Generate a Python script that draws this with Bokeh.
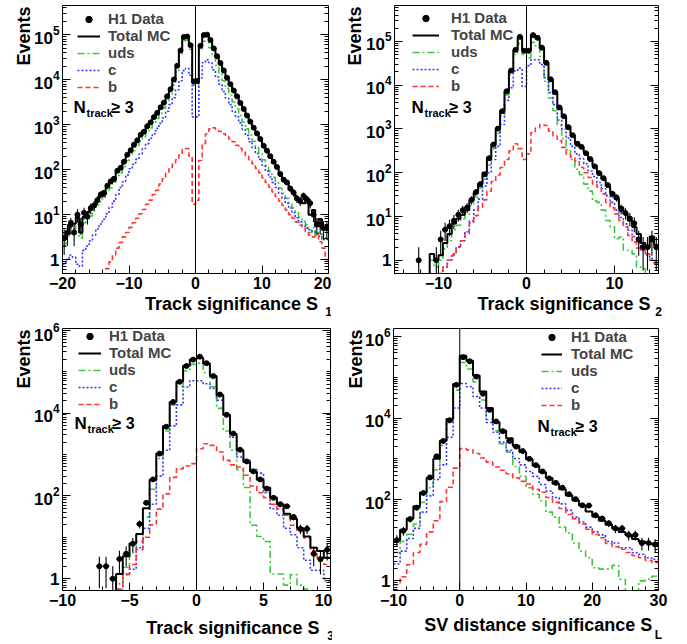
import math
import numpy as np
from bokeh.plotting import figure
from bokeh.layouts import column, row
from bokeh.models import (Range1d, FixedTicker, LogTickFormatter, LogAxis, LinearAxis,
                          CustomJSTickFormatter, Span, Label, Legend, LegendItem)
from bokeh.embed import file_html
from bokeh.resources import INLINE

FONT = "Liberation Sans"
GREEN = "#3ec63e"
BLUE = "#3434ff"
RED = "#ff3434"
FLOOR = 1e-3

# ---------------- Track significance S1 : 80 bins of 0.5 in [-20, 20] ----------------
s1_lo, s1_bw = -20.0, 0.5
s1_data = [3, 4, 6, 4, 10, 6, 11, 9, 14, 16,
           21, 28, 30, 44, 55, 62, 95, 110, 150, 215,
           270, 360, 450, 600, 700, 930, 1130, 1480, 1840, 2450,
           3100, 4300, 6200, 10200, 20500, 45000, 90000, 92000, 59000, 9200,
           9400, 57000, 99000, 101000, 77000, 50000, 33500, 23500, 16200, 11100,
           8000, 5800, 4300, 3050, 2250, 1600, 1170, 860, 640, 480,
           340, 265, 200, 150, 115, 80, 60, 52, 38, 31,
           23, 20, 26, 22, 18, 10, 6, 6, 5, 5]
s1_total = [2.8, 4.2, 7.1, 6.3, 8.9, 4.0, 8.9, 11, 13, 17,
            22, 26, 33, 42, 52, 68, 89, 115, 160, 210,
            280, 350, 460, 580, 720, 910, 1150, 1450, 1860, 2400,
            3160, 4400, 6300, 10000, 20000, 45000, 89000, 93000, 60000, 9100,
            9300, 56000, 100000, 100000, 76000, 50000, 33000, 23000, 16000, 11000,
            7900, 5750, 4200, 3000, 2200, 1580, 1150, 850, 630, 470,
            350, 260, 190, 145, 110, 83, 63, 50, 40, 30,
            24, 19, 18, 22, 10, 12.6, 5.6, 8, 5, 5.6]
s1_uds = [2.1, 3.1, 5.2, 4.7, 6.6, 3.0, 6.6, 8.3, 9.3, 12.3,
          16.6, 19.5, 24.5, 31, 39, 50, 66, 85, 117, 158,
          209, 263, 339, 427, 537, 676, 851, 1070, 1380, 1780,
          2340, 3240, 4680, 7600, 15000, 35000, 74000, 76000, 48000, 7600,
          7600, 48000, 72000, 71000, 52000, 33000, 21000, 14000, 9500, 6500,
          4600, 3200, 2300, 1600, 1150, 810, 590, 430, 310, 230,
          166, 123, 91, 68, 51, 39, 30, 23, 18, 14,
          11, 8.7, 7.2, 6.0, 4.0, 5.2, 3.5, 4.0, 2.8, 3.2]
s1_c = [0.79, 1.0, 1.26, 1.12, 0.79, 0.71, 1.6, 2.0, 2.6, 3.5,
        4.8, 6.2, 7.9, 10.5, 14.5, 20, 28, 40, 54, 76,
        105, 132, 170, 224, 295, 380, 500, 630, 830, 1070,
        1410, 2000, 2800, 4000, 6000, 9500, 16000, 18000, 12600, 1500,
        1500, 11000, 24000, 28000, 24000, 16600, 11500, 8000, 5500, 3900,
        2800, 2000, 1500, 1100, 790, 580, 420, 310, 230, 170,
        126, 93, 69, 52, 40, 30, 23, 18, 14, 11,
        8.5, 6.9, 5.8, 5.0, 4.6, 4.2, 3.8, 3.3, 2.8, 2.8]
s1_b = [0, 0, 0, 0, 0, 0, 0, 0, 0, 0,
        0, 0, 0.45, 0.63, 0.89, 1.26, 1.8, 2.4, 3.2, 4.0,
        5.2, 6.6, 8.3, 10.5, 13, 17, 21, 28, 35, 48,
        63, 83, 105, 132, 166, 214, 280, 295, 200, 17,
        21, 160, 380, 630, 810, 850, 790, 710, 630, 550,
        480, 420, 350, 300, 245, 200, 166, 135, 107, 85,
        66, 52, 41, 32, 25, 20, 16, 12.6, 10, 8.3,
        6.9, 5.8, 5.0, 4.2, 3.5, 3.2, 3.5, 2.5, 1.8, 1.0]

# ---------------- Track significance S2 : 60 bins of 0.5 in [-15, 15] ----------------
s2_lo, s2_bw = -15.0, 0.5
s2_data = [0, 0, 0, 0, 0, 1, 0, 0, 0, 1,
           3, 5, 6, 8, 11, 14, 16, 24, 36, 55,
           92, 215, 440, 1020, 2550, 7300, 21500, 64000, 127000, 61000,
           61000, 139000, 121000, 72000, 32500, 13600, 6900, 3100, 1950, 1100,
           720, 460, 390, 280, 205, 140, 98, 75, 52, 33,
           27, 15, 12, 9, 7, 3, 2, 2, 3, 2]
s2_total = [0, 0, 0, 0, 0, 0, 0, 0, 1.4, 1.0,
            1.3, 2.5, 4.0, 6.9, 8.9, 11, 14, 23, 35, 56,
            100, 220, 450, 1000, 2600, 7400, 21000, 63000, 126000, 62000,
            60000, 138000, 120000, 71000, 32000, 13500, 6800, 3000, 1900, 1120,
            710, 490, 380, 290, 200, 145, 100, 72, 50, 35,
            25, 16, 11.5, 8.1, 5.8, 4.0, 2.5, 2.0, 3.5, 2.2]
s2_uds = [0, 0, 0, 0, 0, 0, 0, 0, 1.0, 0.7,
          1.0, 1.8, 2.8, 5.0, 6.3, 8.9, 11, 18, 28, 45,
          71, 150, 355, 800, 2000, 6000, 17400, 50000, 89000, 50000,
          42000, 95000, 79000, 45000, 12300, 5100, 2600, 1200, 600, 340,
          200, 120, 90, 55, 38, 23, 21, 14, 8.1, 5.8,
          3.1, 3.4, 1.7, 1.7, 1.4, 0.7, 0.65, 0.42, 0.4, 0.4]
s2_c = [0, 0, 0, 0, 0, 0, 0, 0, 0, 0,
        0.5, 0.7, 1.0, 1.4, 2.0, 2.8, 4.5, 7.9, 14, 25,
        50, 100, 200, 400, 1260, 4500, 8700, 21000, 24500, 9300,
        28000, 38000, 38000, 29500, 14800, 6800, 3600, 1600, 1000, 620,
        400, 270, 210, 160, 110, 82, 60, 43, 30, 21,
        14, 9.5, 6.8, 4.9, 3.5, 2.5, 1.7, 1.3, 1.1, 0.9]
s2_b = [0, 0, 0, 0, 0, 0, 0, 0, 0, 0,
        0.5, 0.7, 1.0, 1.3, 2.0, 2.8, 4.0, 7.1, 10.5, 16,
        24, 38, 63, 89, 132, 200, 316, 460, 355, 200,
        270, 830, 1050, 1260, 1200, 890, 690, 540, 380, 263,
        224, 186, 132, 100, 78, 55, 47, 33, 21, 16,
        11.5, 8.1, 5.8, 3.7, 2.6, 1.9, 1.7, 1.4, 1.0, 0.83]

# ---------------- Track significance S3 : 40 bins of 0.5 in [-10, 10] ----------------
s3_lo, s3_bw = -10.0, 0.5
s3_data = [0, 0, 0, 0, 0, 2, 2, 1, 3, 4,
           7, 21, 68, 250, 1050, 4700, 18500, 57000, 137000, 195000,
           230000, 160000, 78000, 28000, 9100, 3200, 1300, 680, 390, 250,
           150, 90, 63, 56, 31, 16, 16, 4, 3, 5]
s3_total = [0, 0, 0, 0, 0, 0, 0, 0, 1.3, 3.5,
            7.2, 12, 50, 245, 1050, 4900, 18600, 57500, 138000, 195000,
            214000, 158000, 79000, 27000, 9100, 3100, 1260, 660, 390, 245,
            158, 91, 63, 37, 28, 16.6, 10.5, 5.6, 4.7, 3.2]
s3_uds = [0, 0, 0, 0, 0, 0, 0, 0, 0.75, 1.9,
          4.3, 7.9, 31, 145, 800, 3700, 15800, 43600, 105000, 150000,
          158000, 95000, 43000, 13000, 3700, 1260, 430, 160, 19.5, 10.5,
          7.9, 1.3, 1.3, 0.7, 1.26, 0.7, 0.56, 0, 0, 0]
s3_c = [0, 0, 0, 0, 0, 0, 0, 0, 0.4, 1.3,
        1.7, 5.6, 16.6, 63, 300, 1260, 4900, 15800, 42700, 60000,
        60000, 51000, 39000, 20400, 8300, 2600, 870, 720, 430, 355,
        120, 49, 34, 16.6, 11.5, 5.6, 2.8, 1.6, 1.6, 0.9]
s3_b = [0, 0, 0, 0, 0, 0, 0, 0, 0.56, 1.26,
        2.2, 5.0, 10, 20, 48, 112, 280, 450, 525, 600,
        1380, 1820, 1660, 1150, 720, 560, 500, 316, 174, 120,
        91, 63, 49, 34, 19.5, 13.8, 9.5, 4.7, 2.7, 2.2]

# ---------------- SV distance significance SL : 40 bins of 1 in [-10, 30] ----------------
sl_lo, sl_bw = -10.0, 1.0
sl_data = [10, 17, 33, 63, 145, 350, 1150, 2750, 8900, 66000,
           316000, 250000, 105000, 40000, 16000, 8300, 4800, 2750, 2000, 1550,
           1000, 700, 490, 330, 257, 195, 135, 102, 72, 71,
           41, 34, 26, 19.5, 19.5, 13.5, 13.5, 8.5, 8.5, 7.8]
sl_total = [10, 18, 34, 68, 148, 340, 1000, 2800, 9500, 69000,
            340000, 257000, 112000, 45000, 17800, 7900, 5000, 3200, 2100, 1480,
            980, 680, 470, 340, 245, 178, 126, 95, 71, 51,
            38, 30, 24, 19.5, 16, 13.5, 10.7, 9.3, 8.5, 7.8]
sl_uds = [5.0, 9.3, 14, 25, 85, 195, 540, 2140, 7800, 49000,
          234000, 162000, 78000, 28000, 9300, 4900, 2340, 1480, 650, 370,
          195, 135, 93, 49, 37, 21, 15, 8.5, 5.4, 3.7,
          2.1, 1.95, 1.95, 2.4, 1.1, 0.56, 0.45, 1.0, 1.1, 1.3]
sl_c = [2.6, 5.4, 11, 19.5, 49, 123, 310, 710, 3400, 17800,
        71000, 59000, 34000, 17800, 7800, 4500, 2600, 1620, 1020, 710,
        490, 370, 234, 162, 112, 78, 54, 37, 28, 21,
        16, 13.5, 9.3, 8.5, 6.5, 6.5, 4.9, 4.5, 3.7, 3.4]
sl_b = [0.8, 1.26, 2.5, 5.0, 7.9, 16, 30, 89, 200, 590,
        1780, 1660, 1350, 1050, 830, 630, 525, 430, 340, 280,
        240, 178, 151, 112, 85, 60, 43, 34, 25, 18.6,
        13.8, 11.5, 8.3, 6.9, 6.0, 5.0, 4.2, 3.7, 3.2, 2.8]


def log_minor(lo_exp, hi_exp, extra=()):
    ticks = [k * 10.0 ** e for e in range(lo_exp, hi_exp + 1) for k in range(2, 10)]
    return sorted(ticks + list(extra))


def style_axis(ax, size="16px"):
    ax.axis_line_color = None
    ax.major_tick_in = 8
    ax.major_tick_out = 0
    ax.minor_tick_in = 4
    ax.minor_tick_out = 0
    ax.major_tick_line_color = "black"
    ax.minor_tick_line_color = "black"
    ax.major_label_text_font = FONT
    ax.major_label_text_font_style = "bold"
    ax.major_label_text_font_size = size
    ax.major_label_text_color = "black"
    ax.major_label_standoff = 3


def bare_axis(ax):
    ax.axis_line_color = None
    ax.major_tick_line_color = None
    ax.minor_tick_line_color = None
    ax.major_tick_in = 0
    ax.major_tick_out = 0
    ax.minor_tick_in = 0
    ax.minor_tick_out = 0
    ax.major_label_text_font = FONT
    ax.major_label_text_font_style = "bold"
    ax.major_label_text_color = "black"
    ax.axis_label_text_font = FONT
    ax.axis_label_text_font_style = "bold"
    ax.axis_label_text_color = "black"


def text(p, x, y, s, size):
    p.add_layout(Label(x=x, y=y, x_units="screen", y_units="screen", text=s,
                       text_font=FONT, text_font_style="bold", text_font_size=size,
                       text_baseline="alphabetic", text_color="black"))


def step_line(p, edges, vals, **kw):
    y = [v if v > 0 else FLOOR for v in vals]
    return p.step(x=list(edges), y=y + [y[-1]], mode="after", **kw)


def panel(cfg):
    w, h = cfg["size"]
    bl, br, bt, bb = cfg["borders"]
    fw, fh = w - bl - br, h - bt - bb
    xr0, xr1 = cfg["xr"]
    yr0, yr1 = cfg["yr"]
    p = figure(width=w, height=h, output_backend="svg", toolbar_location=None,
               x_range=Range1d(xr0, xr1), y_range=Range1d(yr0, yr1),
               y_axis_type="log", min_border_left=bl, min_border_right=br,
               min_border_top=bt, min_border_bottom=bb)
    p.grid.visible = False
    p.outline_line_color = "black"
    p.outline_line_width = 1
    p.background_fill_color = "white"
    p.border_fill_color = "white"

    # numeric axes, ticks pointing into the frame
    p.xaxis.ticker = FixedTicker(ticks=cfg["xmajor"], minor_ticks=cfg["xminor"])
    style_axis(p.xaxis[0])
    yt = FixedTicker(ticks=cfg["ymajor"], minor_ticks=cfg["yminor"])
    p.yaxis.ticker = yt
    p.yaxis.formatter = LogTickFormatter(min_exponent=1)
    style_axis(p.yaxis[0], "17px")
    ra = LogAxis(ticker=yt, formatter=CustomJSTickFormatter(code="return ''"))
    style_axis(ra)
    ra.major_label_standoff = 0
    p.add_layout(ra, "right")

    # x title, right aligned under the axis, with its subscript
    span = xr1 - xr0
    gap, sub_off = cfg["title_gap"]
    xc = xr0 + (fw - gap - cfg["title_w"] / 2) / fw * span
    xs = xr0 + (fw - sub_off) / fw * span
    tx = LinearAxis(ticker=FixedTicker(ticks=[xc], minor_ticks=[]),
                    formatter=CustomJSTickFormatter(args=dict(t=cfg["title"]), code="return t;"),
                    bounds=(xr0, xs))
    bare_axis(tx)
    tx.major_label_text_font_size = "18px"
    tx.major_label_standoff = cfg["title_standoff"]
    tx.axis_label = cfg["sub"]
    tx.axis_label_align = "end"
    tx.axis_label_standoff = -10
    tx.axis_label_text_font_size = "12px"
    p.add_layout(tx, "below")

    # y title, its top end level with the top of the frame
    ppd = fh / math.log10(yr1 / yr0)
    yc = yr1 / 10 ** (1.0 / ppd)
    ty = LogAxis(ticker=FixedTicker(ticks=[yc], minor_ticks=[]),
                 formatter=CustomJSTickFormatter(code="return 'Events';"))
    bare_axis(ty)
    ty.major_label_text_font_size = "18px"
    ty.major_label_orientation = math.pi / 2
    ty.major_label_standoff = cfg["events_standoff"]
    p.add_layout(ty, "left")

    lo, bw, n = cfg["lo"], cfg["bw"], len(cfg["total"])
    edges = lo + bw * np.arange(n + 1)
    centers = edges[:-1] + bw / 2

    r_uds = step_line(p, edges, cfg["uds"], line_color=GREEN, line_width=1.6, line_dash="7 3 2 3")
    r_c = step_line(p, edges, cfg["c"], line_color=BLUE, line_width=1.6, line_dash="2 2")
    r_b = step_line(p, edges, cfg["b"], line_color=RED, line_width=1.6, line_dash="5 3")
    r_tot = step_line(p, edges, cfg["total"], line_color="black", line_width=2)

    cnt = np.array(cfg["data"], dtype=float)
    m = cnt > 0
    xc_, yc_ = centers[m], cnt[m]
    err = np.sqrt(yc_)
    p.segment(x0=xc_, y0=np.maximum(yc_ - err, FLOOR), x1=xc_, y1=yc_ + err,
              line_color="black", line_width=1.1)
    p.segment(x0=xc_ - bw / 2, y0=yc_, x1=xc_ + bw / 2, y1=yc_,
              line_color="black", line_width=1.1)
    r_dat = p.scatter(x=xc_, y=yc_, marker="circle", size=5,
                      fill_color="black", line_color="black")

    p.add_layout(Span(location=0, dimension="height", line_color="black", line_width=1))

    lx, ly, gw, st = cfg["legend"]
    leg = Legend(items=[LegendItem(label="H1 Data", renderers=[r_dat]),
                        LegendItem(label="Total MC", renderers=[r_tot]),
                        LegendItem(label="uds", renderers=[r_uds]),
                        LegendItem(label="c", renderers=[r_c]),
                        LegendItem(label="b", renderers=[r_b])],
                 location=(lx, ly), glyph_width=gw, glyph_height=16, label_standoff=st,
                 spacing=0, padding=0, margin=0, label_height=16,
                 label_text_font=FONT, label_text_font_style="bold",
                 label_text_font_size="15px", border_line_color=None,
                 background_fill_alpha=0)
    p.add_layout(leg, "center")

    nx, ny = cfg["ntrack"]
    text(p, nx, ny, "N", "17px")
    text(p, nx + 13, ny - 5, "track", "11px")
    text(p, nx + 38, ny, "\u2265 3", "16px")
    return p


y6 = [1, 10, 100, 1e3, 1e4, 1e5]
cfgs = [
    dict(size=(331, 322), borders=(62, 3, 5, 49), xr=(-20, 20), yr=(0.49, 4.5e5),
         xmajor=[-20, -10, 0, 10, 20], xminor=list(range(-18, 20, 2)),
         ymajor=y6, yminor=log_minor(-1, 5),
         lo=s1_lo, bw=s1_bw, data=s1_data, total=s1_total, uds=s1_uds, c=s1_c, b=s1_b,
         legend=(15, 178, 23, 8), ntrack=(11, 166),
         title="Track significance S", sub="1", title_w=174, title_gap=(10, 6),
         title_standoff=2, events_standoff=7),
    dict(size=(356, 322), borders=(59, 29, 4, 49), xr=(-15, 15), yr=(0.5, 6.6e5),
         xmajor=[-10, 0, 10], xminor=list(range(-14, 16, 2)),
         ymajor=y6, yminor=log_minor(-1, 5),
         lo=s2_lo, bw=s2_bw, data=s2_data, total=s2_total, uds=s2_uds, c=s2_c, b=s2_b,
         legend=(18, 179, 27, 12), ntrack=(17, 166),
         title="Track significance S", sub="2", title_w=174, title_gap=(9, 4),
         title_standoff=2, events_standoff=8),
    dict(size=(332, 322), borders=(61, 2, 6, 47), xr=(-10, 10), yr=(0.52, 1.1e6),
         xmajor=[-10, -5, 0, 5, 10], xminor=list(range(-9, 10, 1)),
         ymajor=[1, 100, 1e4, 1e6], yminor=log_minor(-1, 6, extra=[10, 1e3, 1e5]),
         lo=s3_lo, bw=s3_bw, data=s3_data, total=s3_total, uds=s3_uds, c=s3_c, b=s3_b,
         legend=(16, 178, 23, 8), ntrack=(12, 167),
         title="Track significance S", sub="3", title_w=174, title_gap=(11, 7),
         title_standoff=9, events_standoff=7),
    dict(size=(355, 322), borders=(57, 29, 6, 47), xr=(-10, 30), yr=(0.58, 1.6e6),
         xmajor=[-10, 0, 10, 20, 30], xminor=list(range(-8, 30, 2)),
         ymajor=[1, 100, 1e4, 1e6], yminor=log_minor(-1, 6, extra=[10, 1e3, 1e5]),
         lo=sl_lo, bw=sl_bw, data=sl_data, total=sl_total, uds=sl_uds, c=sl_c, b=sl_b,
         legend=(148, 177, 21, 9), ntrack=(144, 164),
         title="SV distance significance S", sub="L", title_w=228, title_gap=(8, 3),
         title_standoff=6, events_standoff=6),
]

plots = [panel(c) for c in cfgs]
layout = column(row(plots[0], plots[1]), row(plots[2], plots[3]))

open("out.html", "w").write(file_html(layout, INLINE))
